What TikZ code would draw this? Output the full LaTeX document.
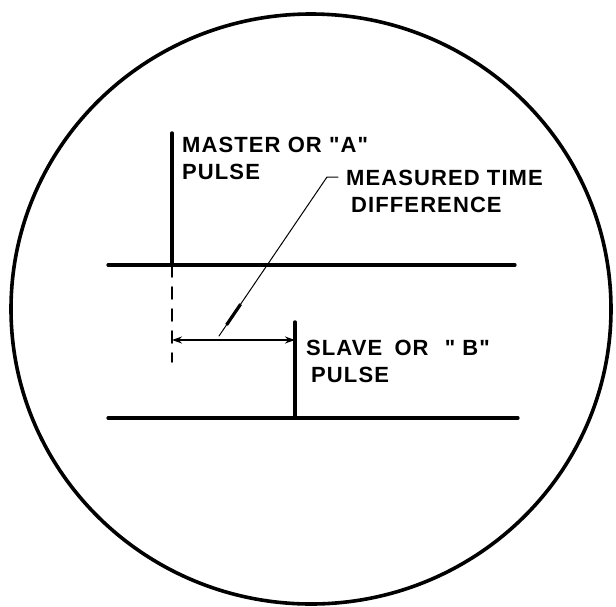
\documentclass[tikz,border=0pt]{standalone}
\usepackage{fontspec}
\newfontfamily\letterfont[LetterSpace=5]{Liberation Sans Bold}
\usetikzlibrary{arrows.meta,calc}

\begin{document}
\begin{tikzpicture}[x=1pt, y=-1pt, line cap=round, line join=round,
    trace/.style={line width=3.2pt},
    pulse/.style={line width=3.5pt},
    dim/.style={line width=1.6pt, {Stealth[length=10pt, width=7pt]}-{Stealth[length=10pt, width=7pt]}},
    leader/.style={line width=1pt},
    label/.style={font=\letterfont\fontsize{22}{27}\selectfont, anchor=north west, inner sep=0pt, align=left}]
    \useasboundingbox (0,0) rectangle (616,606);

    % scope face
    \draw[line width=3.6pt] (311,309) ellipse [x radius=300, y radius=295];

    \coordinate (L1) at (108,265);
    \coordinate (R1) at (515,265);
    \coordinate (L2) at (108,418);
    \coordinate (R2) at (518,418);
    \coordinate (Atop) at (172,133);
    \coordinate (Afoot) at (172,265);
    \coordinate (Aend) at (172,362);
    \coordinate (Btop) at (295,322);
    \coordinate (Bfoot) at (295,418);
    \coordinate (D1) at (172,340);
    \coordinate (D2) at (295,340);
    \coordinate (P) at (219,336);
    \coordinate (Q) at (327,177);
    \coordinate (Qe) at (338,177);

    \draw[trace] (L1) -- (R1); % upper trace
    \draw[trace] (L2) -- (R2); % lower trace
    \draw[pulse] (Atop) -- (Afoot);
    \draw[pulse] (Btop) -- (Bfoot);
    \draw[line width=1.6pt, dash pattern=on 12pt off 10pt] (Afoot) -- (Aend);
    \draw[dim] (D1) -- (D2);

    \draw[leader] (P) -- (Q) -- (Qe);
    \draw[line width=3.2pt, line cap=butt] ($(P)!0.07!(Q)$) -- ($(P)!0.2!(Q)$);

    \node[label] (master) at (182,137) {MASTER OR "A"\\PULSE};
    \node[label] (measured) at (346,170) {MEASURED TIME\\\hspace*{5pt}DIFFERENCE};
    \node[label] (slave) at (306,340) {SLAVE\hspace{5pt} OR\hspace{9pt} " B"\\\hspace*{5pt}PULSE};
\end{tikzpicture}
\end{document}
